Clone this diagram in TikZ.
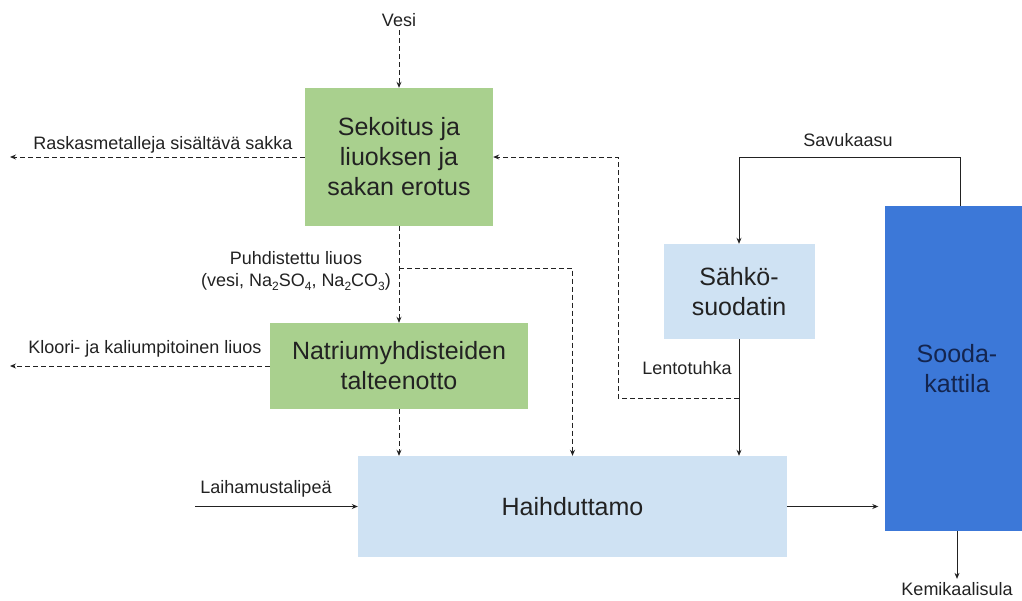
\documentclass[tikz,border=0pt]{standalone}
\usepackage{fontspec}
\setmainfont{Liberation Sans}
\usetikzlibrary{arrows.meta}
\definecolor{stagegreen}{HTML}{A9D08E}
\definecolor{stageblue}{HTML}{CFE2F3}
\definecolor{boilerblue}{HTML}{3C78D8}
\definecolor{boilertext}{HTML}{14254F}
\definecolor{ink}{HTML}{222222}
\newcommand{\lowsub}[1]{\raisebox{-0.45ex}{\fontsize{12}{12}\selectfont #1}}
\tikzset{
  stage/.style={inner sep=0pt, align=center, text=ink,
                font=\fontsize{25}{30}\selectfont},
  greenstage/.style={stage, fill=stagegreen},
  bluestage/.style={stage, fill=stageblue},
  boiler/.style={stage, fill=boilerblue, text=boilertext},
  flow/.style={draw=ink, line width=0.9pt, -{Stealth[length=6pt, width=5pt]}},
  wetflow/.style={flow, dash pattern=on 5pt off 3pt},
  flowlabel/.style={font=\fontsize{18}{22}\selectfont, text=ink, align=center},
}

\begin{document}
\begin{tikzpicture}[x=1pt, y=-1pt]
    \useasboundingbox (0,0) rectangle (1022,600);
    % process stages
    \node[greenstage, minimum width=188pt, minimum height=138pt] (mix) at (399,157) {Sekoitus ja\\liuoksen ja\\sakan erotus};
    \node[greenstage, minimum width=258pt, minimum height=86pt] (natrium) at (399,366) {Natriumyhdisteiden\\talteenotto};
    \node[bluestage, minimum width=429pt, minimum height=101pt] (evap) at (572.5,506.5) {Haihduttamo};
    \node[bluestage, minimum width=151pt, minimum height=95pt] (esp) at (739,291.5) {Sähkö-\\suodatin};
    \node[boiler, minimum width=145pt, minimum height=325pt] (sooda) at (957,368.5) {Sooda-\\kattila};
    % stream labels
    \node[flowlabel] (vesi) at (399,20) {Vesi};
    \node[flowlabel] (sakka) at (163,145) {Raskasmetalleja sisältävä sakka};
    \node[flowlabel] (liuos) at (296,271) {Puhdistettu liuos\\(vesi, Na\lowsub{2}SO\lowsub{4}, Na\lowsub{2}CO\lowsub{3})};
    \node[flowlabel] (kloori) at (145,349) {Kloori- ja kaliumpitoinen liuos};
    \node[flowlabel] (lipea) at (266,489) {Laihamustalipeä};
    \node[flowlabel] (savu) at (848,140) {Savukaasu};
    \node[flowlabel] (tuhka) at (687,368) {Lentotuhka};
    \node[flowlabel] (sula) at (957,589) {Kemikaalisula};
    % free ends and bends
    \coordinate (sakkaend) at (10,157);
    \coordinate (klooriend) at (10,366);
    \coordinate (lipeastart) at (195,506.5);
    \coordinate (branch) at (399,268);
    \coordinate (stack) at (960,157);
    \coordinate (ash) at (739,398);
    \coordinate (recycle) at (618,398);
    % liquid streams
    \draw[wetflow] (vesi) -- (mix);
    \draw[wetflow] (mix.west) -- (sakkaend);
    \draw[wetflow] (mix) -- (natrium);
    \draw[wetflow] (branch) -| (evap.north);
    \draw[wetflow] (natrium.west) -- (klooriend);
    \draw[wetflow] (natrium.south) -- (natrium.south |- evap.north);
    \draw[wetflow] (ash) -- (recycle) |- (mix.east);
    % main line
    \draw[flow] (lipeastart) -- (evap.west);
    \draw[flow, shorten >=6pt] (evap.east) -- (sooda.west |- evap.east);
    \draw[flow] (sooda.north -| stack) -- (stack) -| (esp.north);
    \draw[flow] (esp.south) -- (esp.south |- evap.north);
    \draw[flow] (sooda.south) -- (sula);
  \end{tikzpicture}
\end{document}
